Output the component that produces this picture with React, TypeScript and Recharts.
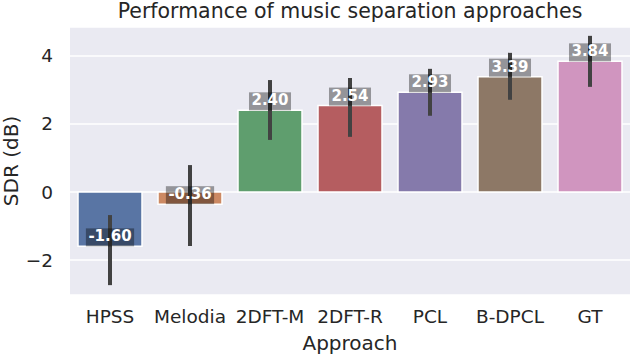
import { BarChart, Bar, XAxis, YAxis, CartesianGrid, ErrorBar, LabelList, Cell } from 'recharts';

const approaches = ['HPSS', 'Melodia', '2DFT-M', '2DFT-R', 'PCL', 'B-DPCL', 'GT'];
const sdrMean = [-1.6, -0.36, 2.4, 2.54, 2.93, 3.39, 3.84];
const ciLow = [-2.74, -1.59, 1.53, 1.62, 2.24, 2.71, 3.09];
const ciHigh = [-0.68, 0.79, 3.29, 3.35, 3.62, 4.09, 4.59];
const yTicks = [-2, 0, 2, 4];

const barColors = ['#5975a4', '#cc8963', '#5f9e6e', '#b55d60', '#857aab', '#8d7866', '#d095bf'];

const data = approaches.map((name, i) => ({
  name,
  sdr: sdrMean[i],
  err: [sdrMean[i] - ciLow[i], ciHigh[i] - sdrMean[i]],
}));

const textColor = '#262626';
const font = 'DejaVu Sans, sans-serif';

const charW: Record<string, number> = { '.': 0.38, '-': 0.415 };

function ValueLabel(props: any) {
  const { x, y, width, height, value } = props;
  const top = Math.min(y, y + height);
  const bottom = Math.max(y, y + height);
  const vy = value >= 0 ? top : bottom;
  const txt = Number(value).toFixed(2);
  const fs = 15;
  const tw = txt.split('').reduce((s, c) => s + (charW[c] ?? 0.696), 0) * fs;
  const bw = tw + 5;
  const cx = x + width / 2;
  return (
    <g>
      <rect x={cx - bw / 2} y={vy - 18} width={bw} height={18} fill="#000" fillOpacity={0.37} />
      <text x={cx} y={vy - 5} textAnchor="middle" fill="#fff" fontWeight="bold" fontSize={fs} fontFamily={font}>
        {txt}
      </text>
    </g>
  );
}

export default function App() {
  return (
    <div style={{ position: 'absolute', left: 0, top: 0, width: 634, height: 358, background: '#fff' }}>
      <svg width={634} height={26} style={{ position: 'absolute', left: 0, top: 0 }}>
        <text x={350} y={18} textAnchor="middle" fontSize={20.5} fill={textColor} fontFamily={font}>
          Performance of music separation approaches
        </text>
      </svg>
      <BarChart
        width={634}
        height={358}
        data={data}
        margin={{ top: 27, right: 4, bottom: 0, left: 0 }}
        barCategoryGap="10%"
      >
        <CartesianGrid vertical={false} fill="#eaeaf2" stroke="#fff" strokeWidth={1.5} />
        <XAxis
          dataKey="name"
          height={63}
          axisLine={false}
          tickLine={false}
          tickSize={0}
          tickMargin={15}
          tick={{ fontSize: 18.5, fill: textColor, fontFamily: font }}
          interval={0}
          label={{
            content: (p: any) => (
              <text x={p.viewBox.x + p.viewBox.width / 2} y={350} textAnchor="middle"
                fontSize={20} fill={textColor} fontFamily={font}>Approach</text>
            ),
          }}
        />
        <YAxis
          width={70}
          domain={[-3.03, 4.85]}
          ticks={yTicks}
          allowDataOverflow
          axisLine={false}
          tickLine={false}
          tickSize={0}
          tickMargin={17}
          tickFormatter={(v) => (v < 0 ? `\u2212${Math.abs(v)}` : `${v}`)}
          tick={{ fontSize: 18.5, fill: textColor, fontFamily: font }}
          label={{
            content: () => (
              <text x={17.5} y={161} transform="rotate(-90, 17.5, 161)" textAnchor="middle"
                fontSize={20} fill={textColor} fontFamily={font}>SDR (dB)</text>
            ),
          }}
        />
        <Bar dataKey="sdr" stroke="#fff" strokeWidth={1.5} isAnimationActive={false}>
          {data.map((d, i) => (
            <Cell key={d.name} fill={barColors[i]} />
          ))}
          <LabelList dataKey="sdr" content={<ValueLabel />} />
          <ErrorBar dataKey="err" direction="y" width={0} stroke="#424242" strokeWidth={4} isAnimationActive={false} />
        </Bar>
      </BarChart>
    </div>
  );
}
